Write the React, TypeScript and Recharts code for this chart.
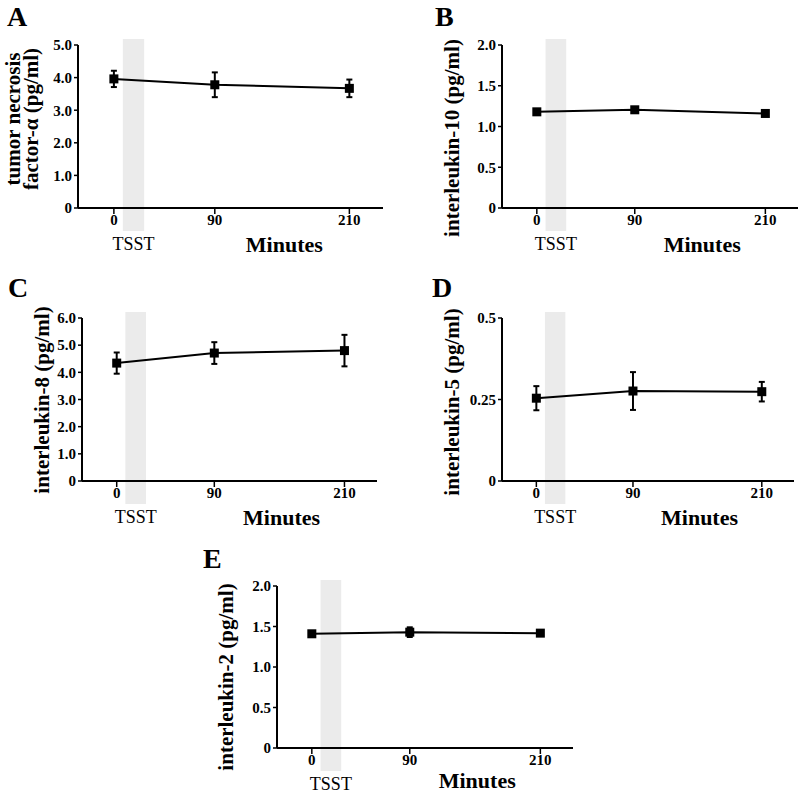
import React from 'react';
import { LineChart, Line, XAxis, YAxis, ErrorBar, ReferenceArea } from 'recharts';

// time points (minutes after start)
const minutes = [0, 90, 210];
const xTicks = [0, 90, 210];
const xDomain = [-32, 240];
// stress task window
const tsstStart = 8;
const tsstEnd = 27;

// A: tumor necrosis factor-alpha
const tnfMean = [3.96, 3.78, 3.67];
const tnfSem = [0.25, 0.38, 0.27];
const tnfTicks = [0, 1, 2, 3, 4, 5];
const tnfTickLabels = ['0', '1.0', '2.0', '3.0', '4.0', '5.0'];

// B: interleukin-10
const il10Mean = [1.18, 1.205, 1.16];
const il10Sem = [0.03, 0.03, 0.03];
const il10Ticks = [0, 0.5, 1, 1.5, 2];
const il10TickLabels = ['0', '0.5', '1.0', '1.5', '2.0'];

// C: interleukin-8
const il8Mean = [4.34, 4.71, 4.8];
const il8Sem = [0.39, 0.4, 0.58];
const il8Ticks = [0, 1, 2, 3, 4, 5, 6];
const il8TickLabels = ['0', '1.0', '2.0', '3.0', '4.0', '5.0', '6.0'];

// D: interleukin-5
const il5Mean = [0.254, 0.276, 0.274];
const il5Sem = [0.037, 0.058, 0.03];
const il5Ticks = [0, 0.25, 0.5];
const il5TickLabels = ['0', '0.25', '0.5'];

// E: interleukin-2
const il2Mean = [1.41, 1.43, 1.418];
const il2Sem = [0.03, 0.06, 0.03];
const il2Ticks = [0, 0.5, 1, 1.5, 2];
const il2TickLabels = ['0', '0.5', '1.0', '1.5', '2.0'];

const W = 800;
const H = 793;
const FONT = '"Liberation Serif", "Times New Roman", serif';

interface Box { l: number; r: number; t: number; b: number }

interface PanelDef {
  letter: string;
  letterPos: [number, number];
  title: string[];
  titleX: number[];
  titleY: number;
  mean: number[];
  sem: number[];
  yTicks: number[];
  yLabels: string[];
  box: Box;
  minutesDy: number;
}

const panels: PanelDef[] = [
  {
    letter: 'A', letterPos: [7, 26],
    title: ['tumor necrosis', 'factor-\u03b1 (pg/ml)'], titleX: [20, 38], titleY: 119,
    mean: tnfMean, sem: tnfSem, yTicks: tnfTicks, yLabels: tnfTickLabels,
    box: { l: 78, r: 383, t: 45, b: 208 }, minutesDy: 44,
  },
  {
    letter: 'B', letterPos: [435, 26],
    title: ['interleukin-10 (pg/ml)'], titleX: [459], titleY: 138,
    mean: il10Mean, sem: il10Sem, yTicks: il10Ticks, yLabels: il10TickLabels,
    box: { l: 502, r: 798, t: 45, b: 208 }, minutesDy: 44,
  },
  {
    letter: 'C', letterPos: [8, 297],
    title: ['interleukin-8 (pg/ml)'], titleX: [49], titleY: 400,
    mean: il8Mean, sem: il8Sem, yTicks: il8Ticks, yLabels: il8TickLabels,
    box: { l: 82, r: 377, t: 318, b: 481 }, minutesDy: 44,
  },
  {
    letter: 'D', letterPos: [432, 297],
    title: ['interleukin-5 (pg/ml)'], titleX: [459], titleY: 402,
    mean: il5Mean, sem: il5Sem, yTicks: il5Ticks, yLabels: il5TickLabels,
    box: { l: 502, r: 794, t: 318, b: 481 }, minutesDy: 44,
  },
  {
    letter: 'E', letterPos: [203, 568],
    title: ['interleukin-2 (pg/ml)'], titleX: [233], titleY: 677,
    mean: il2Mean, sem: il2Sem, yTicks: il2Ticks, yLabels: il2TickLabels,
    box: { l: 277, r: 573, t: 586, b: 748 }, minutesDy: 40,
  },
];

function SquareDot(props: any) {
  const { cx, cy, index } = props;
  if (cx == null || cy == null) return null;
  return <rect key={`dot-${index}`} x={cx - 4.5} y={cy - 4.5} width={9} height={9} fill="#000" />;
}

function TsstBand(props: any) {
  const { x, y, width, height } = props;
  return <rect x={x} y={y - 6} width={width} height={height + 29} fill="#ebebeb" />;
}

// page x position of a minute value inside a panel's plot box
const toPx = (box: Box, v: number) =>
  box.l + ((v - xDomain[0]) / (xDomain[1] - xDomain[0])) * (box.r - box.l);

function Panel({ p }: { p: PanelDef }) {
  const data = minutes.map((t, i) => ({ t, mean: p.mean[i], sem: p.sem[i] }));
  const { box } = p;
  const tickStyle = { fill: '#000', fontSize: 15, fontWeight: 700, fontFamily: FONT };
  return (
    <div style={{ position: 'absolute', left: 0, top: 0 }}>
      <LineChart
        width={W}
        height={H}
        data={data}
        margin={{ top: box.t, right: W - box.r, bottom: 0, left: 0 }}
      >
        <ReferenceArea x1={tsstStart} x2={tsstEnd} shape={TsstBand} fill="#ebebeb" />
        <XAxis
          dataKey="t"
          type="number"
          domain={xDomain}
          ticks={xTicks}
          height={H - box.b}
          axisLine={{ stroke: '#000', strokeWidth: 2 }}
          tickLine={{ stroke: '#000', strokeWidth: 1.5 }}
          tickSize={6}
          tickMargin={0}
          tick={tickStyle}
        />
        <YAxis
          type="number"
          domain={[p.yTicks[0], p.yTicks[p.yTicks.length - 1]]}
          ticks={p.yTicks}
          width={box.l}
          axisLine={{ stroke: '#000', strokeWidth: 2 }}
          tickLine={{ stroke: '#000', strokeWidth: 1.5 }}
          tickSize={4}
          tickMargin={2}
          tick={tickStyle}
          tickFormatter={(v: number) => p.yLabels[p.yTicks.indexOf(v)] ?? String(v)}
        />
        <Line
          type="linear"
          dataKey="mean"
          stroke="#000"
          strokeWidth={2}
          dot={SquareDot}
          activeDot={false}
          isAnimationActive={false}
        >
          <ErrorBar dataKey="sem" width={3} strokeWidth={2} stroke="#000" isAnimationActive={false} />
        </Line>
      </LineChart>
    </div>
  );
}

function Labels() {
  return (
    <svg
      width={W}
      height={H}
      style={{ position: 'absolute', left: 0, top: 0, pointerEvents: 'none' }}
      fontFamily={FONT}
    >
      {panels.map((p) => {
        const { box } = p;
        const tsstX = toPx(box, (tsstStart + tsstEnd) / 2);
        const minX = toPx(box, 152);
        return (
          <g key={p.letter}>
            <text x={p.letterPos[0]} y={p.letterPos[1]} fontSize={28} fontWeight={700}>
              {p.letter}
            </text>
            {p.title.map((line, i) => (
              <text
                key={line}
                transform={`translate(${p.titleX[i]},${p.titleY}) rotate(-90)`}
                textAnchor="middle"
                fontSize={21}
                fontWeight={700}
              >
                {line}
              </text>
            ))}
            <text x={tsstX} y={box.b + 42} textAnchor="middle" fontSize={18}>
              TSST
            </text>
            <text x={minX} y={box.b + p.minutesDy} textAnchor="middle" fontSize={22} fontWeight={700}>
              Minutes
            </text>
          </g>
        );
      })}
    </svg>
  );
}

export default function App() {
  return (
    <div style={{ position: 'absolute', left: 0, top: 0, width: W, height: H, background: '#fff' }}>
      {panels.map((p) => (
        <Panel key={p.letter} p={p} />
      ))}
      <Labels />
    </div>
  );
}
